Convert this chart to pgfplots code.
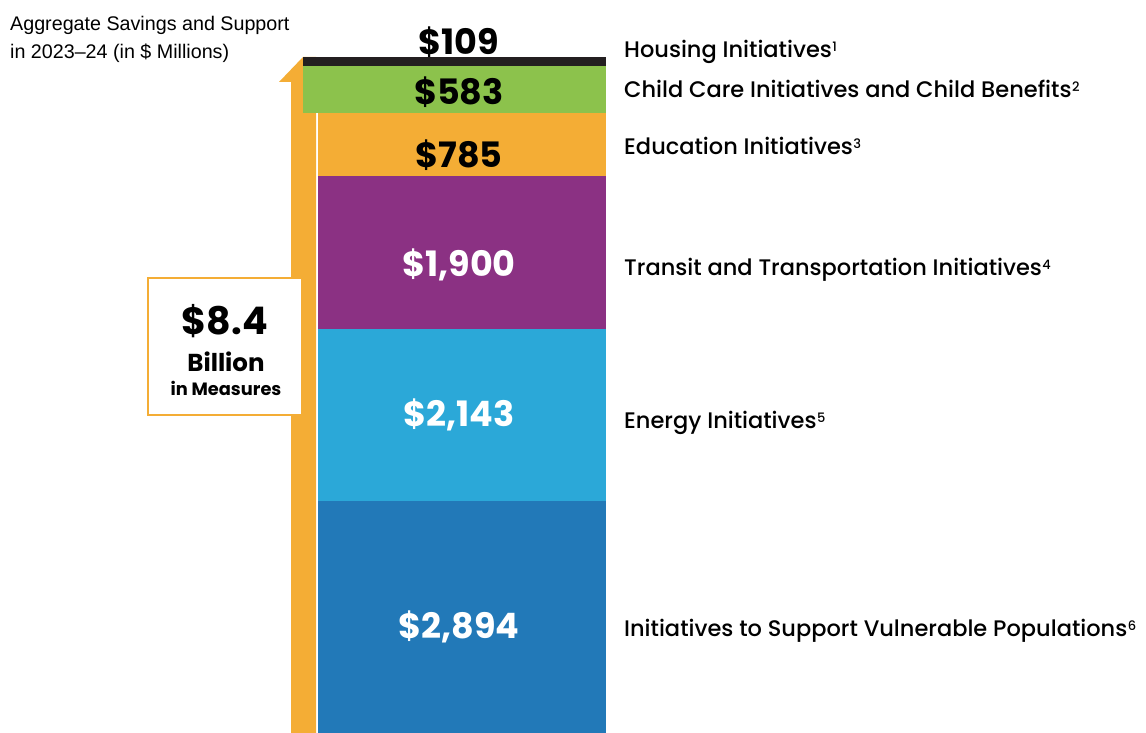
\documentclass[border=0pt]{standalone}
\usepackage{fontspec}
\usepackage{pgfplots}
\pgfplotsset{compat=1.18}
\setmainfont{Liberation Sans}
\newfontfamily\pop{Poppins}
\newfontfamily\popm{Poppins Medium}
\definecolor{cvul}{HTML}{2279B8}
\definecolor{cene}{HTML}{2BA8D8}
\definecolor{ctra}{HTML}{8B3183}
\definecolor{cedu}{HTML}{F4AD35}
\definecolor{cchi}{HTML}{8CC24C}
\definecolor{chou}{HTML}{231F20}
\newcommand{\supn}[1]{\kern0.5pt\raisebox{6.5pt}{\fontsize{13}{13}\selectfont #1}}
\begin{document}
\begin{tikzpicture}[x=1pt,y=1pt]
% arrow (decoration)
\fill[cedu] (291,0) -- (291,651) -- (279,651) -- (303,676) -- (316,676) -- (316,0) -- cycle;
\begin{axis}[hide axis, scale only axis, width=1146pt, height=733pt,
  xmin=0, xmax=1146, ymin=0, ymax=9128, clip=false, ybar stacked]
\addplot[fill=cvul, draw=none, bar width=288] coordinates {(462,2894)};
\addplot[fill=cene, draw=none, bar width=288] coordinates {(462,2143)};
\addplot[fill=ctra, draw=none, bar width=288] coordinates {(462,1900)};
\addplot[fill=cedu, draw=none, bar width=288] coordinates {(462,785)};
\addplot[fill=cchi, draw=none, bar width=303, bar shift=-7.5] coordinates {(462,583)};
\addplot[fill=chou, draw=none, bar width=303, bar shift=-7.5] coordinates {(462,109)};
\end{axis}
% value labels
\begin{scope}[every node/.style={anchor=base, inner sep=0pt, font=\pop\bfseries\fontsize{35}{35}\selectfont}]
\node[text=black] at (459,678) {\$109};
\node[text=black] at (459,628) {\$583};
\node[text=black] at (459,565) {\$785};
\node[text=white] at (459,456) {\$1,900};
\node[text=white] at (459,306) {\$2,143};
\node[text=white] at (459,94) {\$2,894};
\end{scope}
% category labels
\begin{scope}[every node/.style={anchor=base west, inner sep=0pt, font=\popm\fontsize{22.5}{22.5}\selectfont}]
\node at (624,675) {Housing Initiatives\supn{1}};
\node at (624,635) {Child Care Initiatives and Child Benefits\supn{2}};
\node at (624,578) {Education Initiatives\supn{3}};
\node at (624,457) {Transit and Transportation Initiatives\supn{4}};
\node at (624,304) {Energy Initiatives\supn{5}};
\node at (624,96) {Initiatives to Support Vulnerable Populations\supn{6}};
\end{scope}
% total box
\draw[cedu, line width=2.5pt, fill=white] (148,318) rectangle (302,455);
\node[anchor=base, inner sep=0pt, font=\pop\bfseries\fontsize{38}{38}\selectfont] at (225,398) {\$8.4};
\node[anchor=base, inner sep=0pt, font=\pop\bfseries\fontsize{24.5}{24.5}\selectfont] at (226,361) {Billion};
\node[anchor=base, inner sep=0pt, font=\pop\bfseries\fontsize{17.8}{17.8}\selectfont] at (226,337) {in Measures};
% title
\node[anchor=base west, inner sep=0pt, font=\fontsize{19.7}{19.7}\selectfont] at (10,702) {Aggregate Savings and Support};
\node[anchor=base west, inner sep=0pt, font=\fontsize{19.7}{19.7}\selectfont] at (10,674) {in 2023--24 (in \$ Millions)};
\pgfresetboundingbox
\path (0,0) rectangle (1146,733);
\end{tikzpicture}
\end{document}
